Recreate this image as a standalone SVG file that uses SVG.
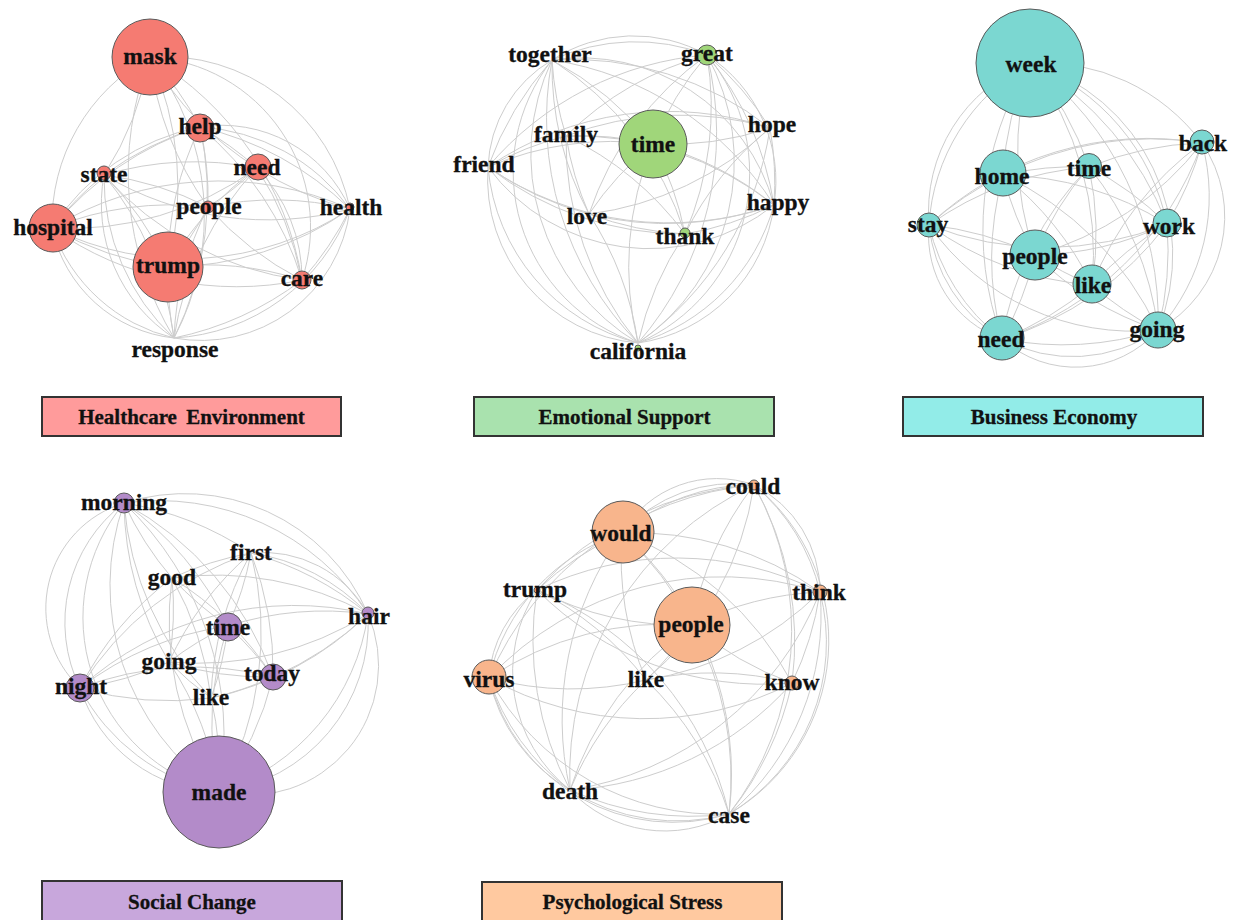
<svg xmlns="http://www.w3.org/2000/svg" width="1235" height="920" viewBox="0 0 1235 920">
<style>
.e path{fill:none;stroke:#cdcdcd;stroke-width:1}
.n circle{stroke:#5a5a5a;stroke-width:1}
.n text{font-family:"Liberation Serif","Times New Roman",serif;font-weight:bold;font-size:23.5px;fill:#111;stroke:#111;stroke-width:0.3;text-anchor:middle}
.r circle{fill:#F57B72}
.g circle{fill:#A0D67A}
.t circle{fill:#7BD7D1}
.p circle{fill:#B38BC9}
.o circle{fill:#F8B58C}
.box rect{stroke:#333;stroke-width:2}
.box text{font-family:"Liberation Serif","Times New Roman",serif;font-weight:bold;font-size:21px;fill:#111;stroke:#111;stroke-width:0.3;text-anchor:middle}
</style>
<rect width="1235" height="920" fill="#fff"/>

<!-- Panel 1 edges -->
<g id="edges-healthcare" class="e">
<path d="M150,57A320,320 0 0 1 200,127"/><path d="M150,57A320,320 0 0 0 257,168"/><path d="M150,57A320,320 0 0 1 104,175"/><path d="M150,57A320,320 0 0 0 208,207"/><path d="M150,57A190,190 0 0 1 350,209"/><path d="M150,57A190,190 0 0 0 52,228"/><path d="M150,57A320,320 0 0 1 168,267"/><path d="M150,57A320,320 0 0 1 302,280"/><path d="M150,57A320,320 0 0 0 174,338"/><path d="M150,57A260,260 0 0 1 174,338"/>
<path d="M200,127A320,320 0 0 1 257,168"/><path d="M200,127A320,320 0 0 0 104,175"/><path d="M200,127A320,320 0 0 1 208,207"/><path d="M200,127A320,320 0 0 1 350,209"/><path d="M200,127A320,320 0 0 0 52,228"/><path d="M200,127A320,320 0 0 0 168,267"/><path d="M200,127A320,320 0 0 1 302,280"/><path d="M200,127A320,320 0 0 1 174,338"/>
<path d="M257,168A320,320 0 0 0 104,175"/><path d="M257,168A320,320 0 0 1 208,207"/><path d="M257,168A320,320 0 0 0 350,209"/><path d="M257,168A320,320 0 0 1 52,228"/><path d="M257,168A320,320 0 0 0 168,267"/><path d="M257,168A320,320 0 0 1 302,280"/><path d="M257,168A320,320 0 0 0 174,338"/>
<path d="M104,175A320,320 0 0 1 208,207"/><path d="M104,175A320,320 0 0 0 350,209"/><path d="M104,175A320,320 0 0 0 52,228"/><path d="M104,175A320,320 0 0 1 168,267"/><path d="M104,175A320,320 0 0 0 302,280"/><path d="M104,175A320,320 0 0 1 174,338"/>
<path d="M208,207A320,320 0 0 1 350,209"/><path d="M208,207A320,320 0 0 0 52,228"/><path d="M208,207A320,320 0 0 1 168,267"/><path d="M208,207A320,320 0 0 0 302,280"/><path d="M208,207A320,320 0 0 0 174,338"/>
<path d="M350,209A320,320 0 0 0 52,228"/><path d="M350,209A320,320 0 0 1 168,267"/><path d="M350,209A320,320 0 0 1 302,280"/><path d="M350,209A200,200 0 0 1 174,338"/>
<path d="M52,228A320,320 0 0 0 168,267"/><path d="M52,228A320,320 0 0 0 302,280"/><path d="M174,338A170,170 0 0 1 52,228"/>
<path d="M168,267A320,320 0 0 1 302,280"/><path d="M168,267A320,320 0 0 0 174,338"/><path d="M302,280A320,320 0 0 1 174,338"/>
<path d="M104,175A220,220 0 0 0 174,338"/><path d="M200,127A200,200 0 0 1 350,209"/><path d="M52,228A230,230 0 0 1 200,127"/><path d="M52,228A300,300 0 0 0 350,209"/><path d="M257,168A160,160 0 0 1 302,280"/>
<path d="M150,57A170,170 0 0 1 302,280"/><path d="M200,127A140,140 0 0 1 350,209"/><path d="M52,228A140,140 0 0 0 174,338"/><path d="M104,175A160,160 0 0 0 174,338"/><path d="M350,209A150,150 0 0 1 174,338"/>
</g>

<!-- Panel 2 edges -->
<g id="edges-emotional" class="e">
<path d="M552,60A200,200 0 0 1 707,55"/><path d="M552,60A320,320 0 0 1 770,128"/><path d="M552,60A320,320 0 0 0 566,136"/><path d="M552,60A320,320 0 0 1 653,144"/><path d="M552,60A320,320 0 0 0 488,167"/><path d="M552,60A320,320 0 0 1 774,205"/><path d="M552,60A320,320 0 0 0 589,214"/><path d="M552,60A320,320 0 0 1 685,234"/><path d="M552,60A320,320 0 0 0 638,343"/>
<path d="M707,55A320,320 0 0 1 770,128"/><path d="M707,55A320,320 0 0 0 566,136"/><path d="M707,55A320,320 0 0 0 653,144"/><path d="M707,55A320,320 0 0 0 488,167"/><path d="M707,55A320,320 0 0 1 774,205"/><path d="M707,55A320,320 0 0 0 589,214"/><path d="M707,55A320,320 0 0 1 685,234"/><path d="M707,55A320,320 0 0 1 638,343"/>
<path d="M770,128A320,320 0 0 0 566,136"/><path d="M770,128A320,320 0 0 1 653,144"/><path d="M770,128A320,320 0 0 0 488,167"/><path d="M770,128A320,320 0 0 1 774,205"/><path d="M770,128A320,320 0 0 1 589,214"/><path d="M770,128A320,320 0 0 0 685,234"/><path d="M770,128A320,320 0 0 1 638,343"/>
<path d="M566,136A320,320 0 0 1 653,144"/><path d="M566,136A320,320 0 0 0 488,167"/><path d="M566,136A320,320 0 0 1 774,205"/><path d="M566,136A320,320 0 0 0 589,214"/><path d="M566,136A320,320 0 0 1 685,234"/><path d="M566,136A320,320 0 0 0 638,343"/>
<path d="M653,144A320,320 0 0 0 488,167"/><path d="M653,144A320,320 0 0 1 774,205"/><path d="M653,144A320,320 0 0 0 589,214"/><path d="M653,144A320,320 0 0 1 685,234"/><path d="M653,144A320,320 0 0 0 638,343"/>
<path d="M488,167A320,320 0 0 0 774,205"/><path d="M488,167A320,320 0 0 0 589,214"/><path d="M488,167A320,320 0 0 0 685,234"/><path d="M488,167A200,200 0 0 0 638,343"/>
<path d="M774,205A320,320 0 0 1 589,214"/><path d="M774,205A320,320 0 0 1 685,234"/><path d="M774,205A200,200 0 0 1 638,343"/>
<path d="M589,214A320,320 0 0 0 685,234"/><path d="M589,214A320,320 0 0 1 638,343"/><path d="M685,234A320,320 0 0 0 638,343"/>
<path d="M552,60A130,130 0 0 0 488,167"/><path d="M552,60A220,220 0 0 0 638,343"/><path d="M707,55A220,220 0 0 1 638,343"/><path d="M707,55A150,150 0 0 1 774,205"/><path d="M552,60A150,150 0 0 1 707,55"/><path d="M488,167A200,200 0 0 0 774,205"/>
<path d="M488,167A165,165 0 0 0 638,343"/><path d="M552,60A200,200 0 0 1 774,205"/><path d="M707,55A185,185 0 0 1 638,343"/><path d="M552,60A180,180 0 0 0 638,343"/><path d="M774,205A160,160 0 0 1 638,343"/>
</g>

<!-- Panel 3 edges -->
<g id="edges-business" class="e">
<path d="M1030,63A200,200 0 0 1 1202,143"/><path d="M1030,63A320,320 0 0 0 1003,175"/><path d="M1030,63A320,320 0 0 1 1089,167"/><path d="M1030,63A200,200 0 0 0 929,225"/><path d="M1030,63A320,320 0 0 1 1167,224"/><path d="M1030,63A320,320 0 0 0 1035,255"/><path d="M1030,63A320,320 0 0 1 1092,285"/><path d="M1030,63A320,320 0 0 0 1002,339"/><path d="M1030,63A320,320 0 0 1 1158,330"/>
<path d="M1202,143A320,320 0 0 0 1003,175"/><path d="M1202,143A320,320 0 0 0 1089,167"/><path d="M1202,143A320,320 0 0 0 929,225"/><path d="M1202,143A320,320 0 0 1 1167,224"/><path d="M1202,143A320,320 0 0 1 1035,255"/><path d="M1202,143A320,320 0 0 0 1092,285"/><path d="M1202,143A320,320 0 0 1 1002,339"/><path d="M1202,143A200,200 0 0 1 1158,330"/>
<path d="M1003,175A320,320 0 0 1 1089,167"/><path d="M1003,175A320,320 0 0 0 929,225"/><path d="M1003,175A320,320 0 0 1 1167,224"/><path d="M1003,175A320,320 0 0 0 1035,255"/><path d="M1003,175A320,320 0 0 1 1092,285"/><path d="M1003,175A320,320 0 0 0 1002,339"/><path d="M1003,175A320,320 0 0 1 1158,330"/>
<path d="M1089,167A320,320 0 0 0 929,225"/><path d="M1089,167A320,320 0 0 1 1167,224"/><path d="M1089,167A320,320 0 0 0 1035,255"/><path d="M1089,167A320,320 0 0 1 1092,285"/><path d="M1089,167A320,320 0 0 0 1002,339"/><path d="M1089,167A320,320 0 0 1 1158,330"/>
<path d="M929,225A320,320 0 0 0 1167,224"/><path d="M929,225A320,320 0 0 1 1035,255"/><path d="M929,225A320,320 0 0 0 1092,285"/><path d="M929,225A200,200 0 0 0 1002,339"/><path d="M929,225A250,250 0 0 0 1158,330"/>
<path d="M1167,224A320,320 0 0 1 1035,255"/><path d="M1167,224A320,320 0 0 0 1092,285"/><path d="M1167,224A320,320 0 0 1 1002,339"/><path d="M1167,224A320,320 0 0 1 1158,330"/>
<path d="M1035,255A320,320 0 0 0 1092,285"/><path d="M1035,255A320,320 0 0 1 1002,339"/><path d="M1035,255A320,320 0 0 0 1158,330"/>
<path d="M1092,285A320,320 0 0 1 1002,339"/><path d="M1092,285A320,320 0 0 0 1158,330"/><path d="M1002,339A150,150 0 0 0 1158,330"/>
<path d="M1030,63A220,220 0 0 1 1167,224"/><path d="M929,225A150,150 0 0 0 1002,339"/><path d="M1030,63A160,160 0 0 0 929,225"/><path d="M1002,339A320,320 0 0 0 1158,330"/>
<path d="M1202,143A130,130 0 0 1 1158,330"/><path d="M1030,63A200,200 0 0 1 1158,330"/><path d="M929,225A110,110 0 0 0 1002,339"/><path d="M1002,339A110,110 0 0 0 1158,330"/>
</g>

<!-- Panel 4 edges -->
<g id="edges-social" class="e">
<path d="M124,503A320,320 0 0 1 251,553"/><path d="M124,503A320,320 0 0 0 172,578"/><path d="M124,503A250,250 0 0 1 368,614"/><path d="M124,503A320,320 0 0 1 228,626"/><path d="M124,503A320,320 0 0 0 169,662"/><path d="M124,503A320,320 0 0 1 273,677"/><path d="M124,503A150,150 0 0 0 80,688"/><path d="M124,503A320,320 0 0 0 211,698"/><path d="M124,503A320,320 0 0 1 219,792"/>
<path d="M251,553A320,320 0 0 0 172,578"/><path d="M251,553A320,320 0 0 1 368,614"/><path d="M251,553A320,320 0 0 1 228,626"/><path d="M251,553A320,320 0 0 0 169,662"/><path d="M251,553A320,320 0 0 1 273,677"/><path d="M251,553A320,320 0 0 0 80,688"/><path d="M251,553A320,320 0 0 0 211,698"/><path d="M251,553A320,320 0 0 1 219,792"/>
<path d="M172,578A320,320 0 0 1 368,614"/><path d="M172,578A320,320 0 0 0 228,626"/><path d="M172,578A320,320 0 0 1 169,662"/><path d="M172,578A320,320 0 0 1 273,677"/><path d="M172,578A320,320 0 0 0 80,688"/><path d="M172,578A320,320 0 0 1 211,698"/><path d="M172,578A320,320 0 0 0 219,792"/>
<path d="M368,614A320,320 0 0 0 228,626"/><path d="M368,614A320,320 0 0 1 169,662"/><path d="M368,614A320,320 0 0 1 273,677"/><path d="M368,614A320,320 0 0 0 80,688"/><path d="M368,614A320,320 0 0 1 211,698"/><path d="M368,614A170,170 0 0 1 219,792"/>
<path d="M228,626A320,320 0 0 0 169,662"/><path d="M228,626A320,320 0 0 1 273,677"/><path d="M228,626A320,320 0 0 0 80,688"/><path d="M228,626A320,320 0 0 1 211,698"/><path d="M228,626A320,320 0 0 0 219,792"/>
<path d="M169,662A320,320 0 0 0 273,677"/><path d="M169,662A320,320 0 0 1 80,688"/><path d="M169,662A320,320 0 0 0 211,698"/><path d="M169,662A320,320 0 0 1 219,792"/>
<path d="M273,677A320,320 0 0 0 80,688"/><path d="M273,677A320,320 0 0 1 211,698"/><path d="M273,677A320,320 0 0 1 219,792"/>
<path d="M80,688A320,320 0 0 0 211,698"/><path d="M80,688A150,150 0 0 0 219,792"/><path d="M211,698A320,320 0 0 1 219,792"/>
<path d="M124,503A250,250 0 0 0 219,792"/><path d="M124,503A200,200 0 0 1 368,614"/><path d="M251,553A200,200 0 0 1 368,614"/><path d="M368,614A220,220 0 0 1 219,792"/><path d="M80,688A200,200 0 0 0 219,792"/>
<path d="M124,503A110,110 0 0 0 80,688"/><path d="M124,503A180,180 0 0 0 219,792"/><path d="M368,614A130,130 0 0 1 219,792"/><path d="M251,553A120,120 0 0 1 368,614"/>
</g>

<!-- Panel 5 edges -->
<g id="edges-psych" class="e">
<path d="M754,485A200,200 0 0 0 622,533"/><path d="M754,485A320,320 0 0 0 537,590"/><path d="M754,485A120,120 0 0 1 820,592"/><path d="M754,485A320,320 0 0 0 692,625"/><path d="M754,485A320,320 0 0 0 489,678"/><path d="M754,485A320,320 0 0 1 646,680"/><path d="M754,485A320,320 0 0 1 792,683"/><path d="M754,485A320,320 0 0 0 570,790"/><path d="M754,485A300,300 0 0 1 729,814"/>
<path d="M622,533A320,320 0 0 0 537,590"/><path d="M622,533A320,320 0 0 1 820,592"/><path d="M622,533A320,320 0 0 1 692,625"/><path d="M622,533A200,200 0 0 0 489,678"/><path d="M622,533A320,320 0 0 0 646,680"/><path d="M622,533A320,320 0 0 1 792,683"/><path d="M622,533A320,320 0 0 0 570,790"/><path d="M622,533A320,320 0 0 1 729,814"/>
<path d="M537,590A320,320 0 0 1 820,592"/><path d="M537,590A320,320 0 0 0 692,625"/><path d="M537,590A120,120 0 0 0 489,678"/><path d="M537,590A320,320 0 0 1 646,680"/><path d="M537,590A320,320 0 0 0 792,683"/><path d="M537,590A320,320 0 0 0 570,790"/><path d="M537,590A320,320 0 0 1 729,814"/>
<path d="M820,592A320,320 0 0 0 692,625"/><path d="M820,592A320,320 0 0 0 489,678"/><path d="M820,592A320,320 0 0 1 646,680"/><path d="M820,592A320,320 0 0 1 792,683"/><path d="M820,592A320,320 0 0 1 570,790"/><path d="M820,592A200,200 0 0 1 729,814"/>
<path d="M692,625A320,320 0 0 0 489,678"/><path d="M692,625A320,320 0 0 1 646,680"/><path d="M692,625A320,320 0 0 0 792,683"/><path d="M692,625A320,320 0 0 0 570,790"/><path d="M692,625A320,320 0 0 1 729,814"/>
<path d="M489,678A320,320 0 0 0 646,680"/><path d="M489,678A320,320 0 0 0 792,683"/><path d="M489,678A170,170 0 0 0 570,790"/><path d="M489,678A260,260 0 0 0 729,814"/>
<path d="M646,680A320,320 0 0 1 792,683"/><path d="M646,680A320,320 0 0 0 570,790"/><path d="M646,680A320,320 0 0 1 729,814"/>
<path d="M792,683A320,320 0 0 1 570,790"/><path d="M792,683A320,320 0 0 1 729,814"/><path d="M570,790A200,200 0 0 0 729,814"/>
<path d="M622,533A150,150 0 0 1 754,485"/><path d="M754,485A200,200 0 0 1 820,592"/><path d="M489,678A220,220 0 0 0 570,790"/><path d="M570,790A300,300 0 0 0 729,814"/><path d="M820,592A260,260 0 0 1 729,814"/>
<path d="M622,533A110,110 0 0 1 754,485"/><path d="M754,485A200,200 0 0 1 729,814"/><path d="M489,678A190,190 0 0 0 729,814"/><path d="M570,790A130,130 0 0 0 729,814"/><path d="M537,590A150,150 0 0 0 570,790"/>
</g>

<!-- Panel 1 nodes -->
<g id="hc-mask" class="n r"><circle cx="150" cy="57" r="38"/><text x="150" y="64">mask</text></g>
<g id="hc-help" class="n r"><circle cx="200" cy="128" r="14"/><text x="200" y="134">help</text></g>
<g id="hc-need" class="n r"><circle cx="258" cy="167" r="13"/><text x="257" y="175">need</text></g>
<g id="hc-state" class="n r"><circle cx="104" cy="173" r="7"/><text x="104" y="182">state</text></g>
<g id="hc-people" class="n r"><circle cx="208" cy="207" r="6"/><text x="209" y="214">people</text></g>
<g id="hc-health" class="n r"><circle cx="350" cy="207" r="4"/><text x="351" y="215">health</text></g>
<g id="hc-hospital" class="n r"><circle cx="53" cy="228" r="24"/><text x="53" y="235">hospital</text></g>
<g id="hc-trump" class="n r"><circle cx="168" cy="267" r="35"/><text x="168" y="273">trump</text></g>
<g id="hc-care" class="n r"><circle cx="302" cy="280" r="9"/><text x="302" y="286">care</text></g>
<g id="hc-response" class="n r"><text x="175" y="357">response</text></g>

<!-- Panel 2 nodes -->
<g id="es-together" class="n g"><text x="550" y="62">together</text></g>
<g id="es-great" class="n g"><circle cx="707" cy="55" r="10"/><text x="707" y="61">great</text></g>
<g id="es-hope" class="n g"><text x="772" y="132">hope</text></g>
<g id="es-family" class="n g"><text x="566" y="142">family</text></g>
<g id="es-time" class="n g"><circle cx="653" cy="144" r="34"/><text x="653" y="152">time</text></g>
<g id="es-friend" class="n g"><text x="484" y="172">friend</text></g>
<g id="es-happy" class="n g"><text x="778" y="210">happy</text></g>
<g id="es-love" class="n g"><text x="587" y="224">love</text></g>
<g id="es-thank" class="n g"><circle cx="685" cy="233" r="5"/><text x="685" y="244">thank</text></g>
<g id="es-california" class="n g"><circle cx="638" cy="348" r="3"/><text x="638" y="359">california</text></g>

<!-- Panel 3 nodes -->
<g id="be-week" class="n t"><circle cx="1030" cy="63" r="54"/><text x="1031" y="72">week</text></g>
<g id="be-back" class="n t"><circle cx="1202" cy="142" r="12"/><text x="1203" y="151">back</text></g>
<g id="be-home" class="n t"><circle cx="1003" cy="173" r="23"/><text x="1002" y="184">home</text></g>
<g id="be-time" class="n t"><circle cx="1089" cy="166" r="12.5"/><text x="1089" y="176">time</text></g>
<g id="be-stay" class="n t"><circle cx="929" cy="225" r="12"/><text x="928" y="232">stay</text></g>
<g id="be-work" class="n t"><circle cx="1167" cy="223" r="14"/><text x="1169" y="234">work</text></g>
<g id="be-people" class="n t"><circle cx="1035" cy="255" r="25"/><text x="1035" y="264">people</text></g>
<g id="be-like" class="n t"><circle cx="1092" cy="284" r="19"/><text x="1093" y="293">like</text></g>
<g id="be-need" class="n t"><circle cx="1002" cy="338" r="22"/><text x="1001" y="347">need</text></g>
<g id="be-going" class="n t"><circle cx="1158" cy="330" r="18"/><text x="1157" y="337">going</text></g>

<!-- Panel 4 nodes -->
<g id="sc-morning" class="n p"><circle cx="124" cy="503" r="10"/><text x="124" y="510">morning</text></g>
<g id="sc-first" class="n p"><text x="251" y="560">first</text></g>
<g id="sc-good" class="n p"><text x="172" y="585">good</text></g>
<g id="sc-hair" class="n p"><circle cx="368" cy="613" r="6"/><text x="369" y="624">hair</text></g>
<g id="sc-time" class="n p"><circle cx="228" cy="627" r="14"/><text x="228" y="635">time</text></g>
<g id="sc-going" class="n p"><text x="169" y="669">going</text></g>
<g id="sc-today" class="n p"><circle cx="273" cy="677" r="13"/><text x="272" y="681">today</text></g>
<g id="sc-night" class="n p"><circle cx="80" cy="688" r="14"/><text x="81" y="694">night</text></g>
<g id="sc-like" class="n p"><text x="211" y="705">like</text></g>
<g id="sc-made" class="n p"><circle cx="219" cy="792" r="56"/><text x="219" y="800">made</text></g>

<!-- Panel 5 nodes -->
<g id="ps-could" class="n o"><circle cx="754" cy="485" r="5"/><text x="753" y="494">could</text></g>
<g id="ps-would" class="n o"><circle cx="623" cy="532" r="31"/><text x="621" y="541">would</text></g>
<g id="ps-trump" class="n o"><circle cx="537" cy="590" r="3"/><text x="535" y="597">trump</text></g>
<g id="ps-think" class="n o"><circle cx="820" cy="592" r="7"/><text x="819" y="600">think</text></g>
<g id="ps-people" class="n o"><circle cx="692" cy="625" r="38"/><text x="691" y="632">people</text></g>
<g id="ps-virus" class="n o"><circle cx="489" cy="677" r="17"/><text x="489" y="687">virus</text></g>
<g id="ps-like" class="n o"><text x="646" y="687">like</text></g>
<g id="ps-know" class="n o"><circle cx="792" cy="683" r="7"/><text x="792" y="690">know</text></g>
<g id="ps-death" class="n o"><text x="570" y="799">death</text></g>
<g id="ps-case" class="n o"><text x="729" y="823">case</text></g>

<!-- Labels -->
<g id="label-healthcare" class="box"><rect x="42" y="397" width="299" height="39" fill="#FF9B9B"/><text x="191.5" y="424" word-spacing="4">Healthcare Environment</text></g>
<g id="label-emotional" class="box"><rect x="474" y="397" width="300" height="39" fill="#A9E2AE"/><text x="624.5" y="424">Emotional Support</text></g>
<g id="label-business" class="box"><rect x="903" y="397" width="300" height="39" fill="#92ECE8"/><text x="1054" y="424">Business Economy</text></g>
<g id="label-social" class="box"><rect x="42" y="881" width="300" height="45" fill="#C8A7DC"/><text x="192" y="909">Social Change</text></g>
<g id="label-psych" class="box"><rect x="482" y="882" width="300" height="45" fill="#FFC9A0"/><text x="632.5" y="909">Psychological Stress</text></g>
</svg>
